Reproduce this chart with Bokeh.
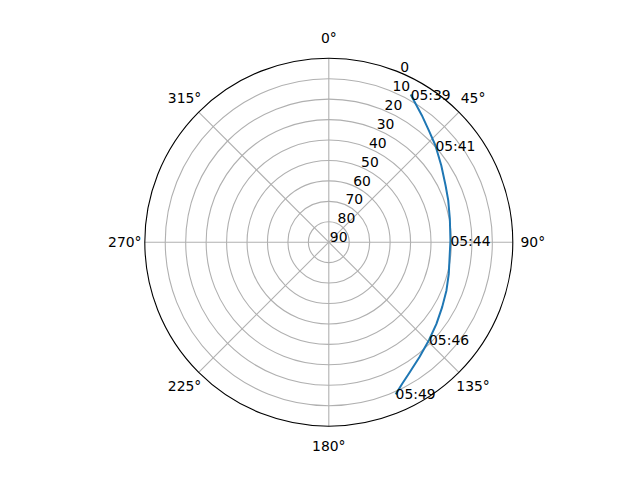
import numpy as np
from bokeh.plotting import figure
from bokeh.core.properties import value
from bokeh.embed import file_html
from bokeh.resources import INLINE

# ---- data ----
azimuth = [29.0, 32.0, 36.2, 42.1, 47.8, 55.7, 64.1, 70.7, 79.1, 89.2,
           104.8, 112.3, 119.8, 127.2, 134.3, 141.7, 148.7, 152.6, 156.3]
elevation = [7.4, 10.0, 13.0, 16.8, 19.6, 23.4, 26.5, 28.1, 29.7, 30.5,
             29.3, 27.8, 26.1, 23.9, 21.5, 18.4, 14.7, 12.0, 8.7]
label_times = ["05:39", "05:41", "05:44", "05:46", "05:49"]
label_index = [0, 4, 9, 14, 18]

elev_ticks = [0, 10, 20, 30, 40, 50, 60, 70, 80, 90]
angle_ticks = [0, 45, 90, 135, 180, 225, 270, 315]
rlabel_angle = 22.5

# ---- layout ----
W, H = 624, 464
cx, cy = 328.3, 241.7       # centre in figure pixels (from top-left)
scale = 184.0 / 90.0        # px per radial unit

p = figure(width=W, height=H, output_backend="svg", toolbar_location=None,
           x_range=(-cx / scale, (W - cx) / scale),
           y_range=(-(H - cy) / scale, cy / scale),
           min_border=0)
p.axis.visible = False
p.grid.visible = False
p.outline_line_color = None
p.background_fill_color = "white"
p.border_fill_color = "white"

font = value("DejaVu Sans")
fs = "13.9px"

def to_xy(az, r):
    a = np.radians(np.asarray(az, dtype=float))
    r = np.asarray(r, dtype=float)
    return r * np.sin(a), r * np.cos(a)

rmax = 90 - min(elev_ticks)

# grid rings
ring_r = [90 - e for e in elev_ticks if 0 < 90 - e < rmax]
p.circle(x=[0] * len(ring_r), y=[0] * len(ring_r), radius=ring_r,
         fill_color=None, line_color="#b0b0b0", line_width=1.1)
# spokes
sx, sy = to_xy(angle_ticks, [rmax] * len(angle_ticks))
p.segment(x0=[0] * len(angle_ticks), y0=[0] * len(angle_ticks), x1=sx, y1=sy,
          line_color="#b0b0b0", line_width=1.1)
# outer spine
p.circle(x=[0], y=[0], radius=[rmax], fill_color=None, line_color="black", line_width=1.1)

# data line
r_data = [90 - e for e in elevation]
dx, dy = to_xy(azimuth, r_data)
p.line(dx, dy, line_color="#1f77b4", line_width=2.0, line_join="round")

# time labels
lx = [dx[i] for i in label_index]
ly = [dy[i] for i in label_index]
p.text(x=lx, y=ly, text=label_times, text_font=font, text_font_size=fs,
       text_align="left", text_baseline="alphabetic", text_color="black")

# radial labels
rl = [90 - e for e in elev_ticks]
rx, ry = to_xy([rlabel_angle] * len(rl), rl)
p.text(x=rx, y=ry, text=[str(e) for e in elev_ticks], text_font=font, text_font_size=fs,
       text_align="left", text_baseline="bottom", x_offset=1, text_color="black")

# angle labels
ax_, ay_ = to_xy(angle_ticks, [rmax + 20.0 / scale] * len(angle_ticks))
p.text(x=ax_, y=ay_, text=[f"{a}\u00b0" for a in angle_ticks], text_font=font,
       text_font_size=fs, text_align="center", text_baseline="middle", text_color="black")

open("out.html", "w").write(file_html(p, INLINE))
